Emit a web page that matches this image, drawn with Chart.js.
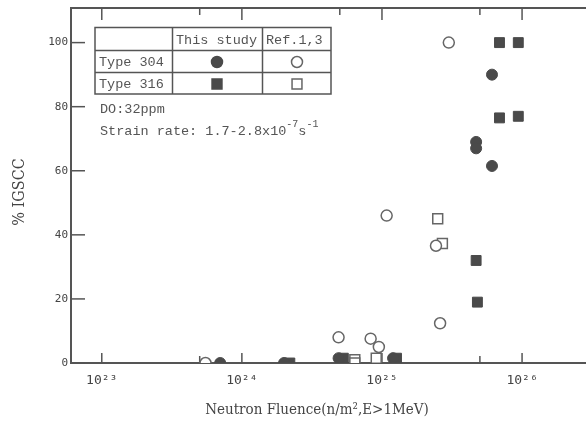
<!DOCTYPE html>
<html>
<head>
<meta charset="utf-8">
<script src="https://cdn.jsdelivr.net/npm/chart.js@4.4.0/dist/chart.umd.min.js"></script>
<style>
  body { margin: 0; background: #fff; }
</style>
</head>
<body>
<canvas id="chart" width="586" height="426"></canvas>
<script>
// neutron fluence (n/m2) and % IGSCC
var fluence304This = [7.0e23, 2.0e24, 4.9e24, 1.2e25, 4.7e25, 4.7e25, 6.1e25, 6.1e25];
var igscc304This   = [0, 0, 1.5, 1.5, 69, 67, 90, 61.5];

var fluence316This = [2.2e24, 5.3e24, 1.27e25, 4.7e25, 4.8e25, 6.9e25, 9.4e25, 6.9e25, 9.4e25];
var igscc316This   = [0, 1.5, 1.5, 32, 19, 100, 100, 76.5, 77];

var fluence304Ref = [5.5e23, 4.9e24, 8.3e24, 9.5e24, 1.08e25, 2.43e25, 2.6e25, 3.0e25];
var igscc304Ref   = [0, 8, 7.6, 5, 46, 36.6, 12.4, 100];

var fluence316Ref = [6.4e24, 6.4e24, 9.1e24, 2.5e25, 2.7e25];
var igscc316Ref   = [1, 0, 1.5, 45, 37.3];

var xMajor = [1e23, 1e24, 1e25, 1e26];
var xLabels = ['10²³', '10²⁴', '10²⁵', '10²⁶'];
var xMinor = [5e23, 5e24, 5e25];
var yTicks = [0, 20, 40, 60, 80, 100];

var ink = '#4a4a4a';

function pts(xs, ys) {
  return xs.map(function (v, i) { return { x: v, y: ys[i] }; });
}

function line(ctx, x1, y1, x2, y2) {
  ctx.beginPath();
  ctx.moveTo(x1, y1);
  ctx.lineTo(x2, y2);
  ctx.stroke();
}

var frame = {
  id: 'frame',
  beforeDatasetsDraw: function (chart) {
    var ctx = chart.ctx, a = chart.chartArea;
    var sx = chart.scales.x, sy = chart.scales.y;
    ctx.save();
    ctx.strokeStyle = '#555';
    ctx.lineWidth = 2;
    ctx.beginPath();
    ctx.moveTo(a.right, a.top);
    ctx.lineTo(a.left, a.top);
    ctx.lineTo(a.left, a.bottom);
    ctx.lineTo(a.right, a.bottom);
    ctx.stroke();
    ctx.lineWidth = 1.5;
    xMajor.forEach(function (v) {
      var px = sx.getPixelForValue(v);
      line(ctx, px, a.bottom, px, a.bottom - 10);
      line(ctx, px, a.top, px, a.top + 12);
    });
    xMinor.forEach(function (v) {
      var px = sx.getPixelForValue(v);
      line(ctx, px, a.bottom, px, a.bottom - 7);
      line(ctx, px, a.top, px, a.top + 7);
    });
    yTicks.forEach(function (v) {
      var py = sy.getPixelForValue(v);
      line(ctx, a.left, py, a.left + 14, py);
    });
    ctx.restore();
  },
  afterDraw: function (chart) {
    var ctx = chart.ctx;
    ctx.save();
    // axis titles
    ctx.fillStyle = '#444';
    ctx.font = '15px "DejaVu Serif Condensed", "DejaVu Serif", serif';
    ctx.textAlign = 'center';
    ctx.textBaseline = 'middle';
    ctx.fillText('Neutron Fluence(n/m²,E>1MeV)', 317, 410);
    ctx.save();
    ctx.translate(20, 192);
    ctx.rotate(-Math.PI / 2);
    ctx.font = '16px "DejaVu Serif Condensed", "DejaVu Serif", serif';
    ctx.fillText('% IGSCC', 0, 0);
    ctx.restore();

    // legend table
    ctx.strokeStyle = '#555';
    ctx.lineWidth = 1.5;
    ctx.strokeRect(95, 27.5, 236, 66.5);
    line(ctx, 95, 50.5, 331, 50.5);
    line(ctx, 95, 72.5, 331, 72.5);
    line(ctx, 172.5, 27.5, 172.5, 94);
    line(ctx, 262.5, 27.5, 262.5, 94);

    ctx.font = '13.5px "Liberation Mono", "DejaVu Sans Mono", monospace';
    ctx.fillStyle = '#555';
    ctx.textAlign = 'left';
    ctx.fillText('This study', 176, 40);
    ctx.fillText('Ref.1,3', 266, 40);
    ctx.fillText('Type 304', 99, 62);
    ctx.fillText('Type 316', 99, 84);

    var dp = Chart.helpers.drawPoint;
    ctx.lineWidth = 1.5;
    ctx.fillStyle = ink; ctx.strokeStyle = ink;
    dp(ctx, { pointStyle: 'circle', radius: 5.5, rotation: 0, borderWidth: 1 }, 217, 62);
    dp(ctx, { pointStyle: 'rect', radius: 7, rotation: 0, borderWidth: 1 }, 217, 84);
    ctx.fillStyle = '#fff'; ctx.strokeStyle = '#666';
    dp(ctx, { pointStyle: 'circle', radius: 5.5, rotation: 0, borderWidth: 1.5 }, 297, 62);
    dp(ctx, { pointStyle: 'rect', radius: 7, rotation: 0, borderWidth: 1.5 }, 297, 84);

    // test conditions
    ctx.fillStyle = '#555';
    ctx.font = '13.5px "Liberation Mono", "DejaVu Sans Mono", monospace';
    ctx.fillText('DO:32ppm', 100, 109);
    var s = 'Strain rate: 1.7-2.8x10';
    ctx.fillText(s, 100, 131);
    var w = ctx.measureText(s).width;
    ctx.font = '10px "Liberation Mono", "DejaVu Sans Mono", monospace';
    ctx.fillText('-7', 100 + w, 124);
    var w2 = ctx.measureText('-7').width;
    ctx.font = '13.5px "Liberation Mono", "DejaVu Sans Mono", monospace';
    ctx.fillText('s', 100 + w + w2, 131);
    var w3 = ctx.measureText('s').width;
    ctx.font = '10px "Liberation Mono", "DejaVu Sans Mono", monospace';
    ctx.fillText('-1', 100 + w + w2 + w3, 124);
    ctx.restore();
  }
};

new Chart(document.getElementById('chart'), {
  type: 'scatter',
  data: {
    datasets: [
      {
        label: 'Type 304 Ref.1,3',
        data: pts(fluence304Ref, igscc304Ref),
        pointStyle: 'circle', pointRadius: 5.5,
        backgroundColor: '#fff', borderColor: '#666', borderWidth: 1.5
      },
      {
        label: 'Type 316 Ref.1,3',
        data: pts(fluence316Ref, igscc316Ref),
        pointStyle: 'rect', pointRadius: 7,
        backgroundColor: '#fff', borderColor: '#666', borderWidth: 1.5
      },
      {
        label: 'Type 304 This study',
        data: pts(fluence304This, igscc304This),
        pointStyle: 'circle', pointRadius: 5.5,
        backgroundColor: ink, borderColor: ink, borderWidth: 1
      },
      {
        label: 'Type 316 This study',
        data: pts(fluence316This, igscc316This),
        pointStyle: 'rect', pointRadius: 7,
        backgroundColor: ink, borderColor: ink, borderWidth: 1
      }
    ]
  },
  options: {
    responsive: false,
    animation: false,
    layout: { autoPadding: false, padding: { top: 8, right: 0, bottom: 0, left: 0 } },
    plugins: { legend: { display: false }, tooltip: { enabled: false } },
    scales: {
      x: {
        type: 'logarithmic',
        min: 6.03e22,
        max: 2.86e26,
        grid: { display: false, drawTicks: false },
        border: { display: false },
        afterBuildTicks: function (s) {
          s.ticks = xMajor.map(function (v) { return { value: v, major: true }; });
        },
        afterFit: function (s) { s.height = 63; s.paddingLeft = 0; s.paddingRight = 0; },
        ticks: {
          autoSkip: false, maxRotation: 0, padding: 10, color: '#444',
          font: { family: '"DejaVu Sans Mono", monospace', size: 13 },
          callback: function (v) { return xLabels[xMajor.indexOf(v)]; }
        }
      },
      y: {
        min: 0,
        max: 110.8,
        grid: { display: false, drawTicks: false },
        border: { display: false },
        afterBuildTicks: function (s) {
          s.ticks = yTicks.map(function (v) { return { value: v }; });
        },
        afterFit: function (s) { s.width = 71; s.paddingTop = 0; s.paddingBottom = 0; },
        ticks: {
          padding: 3, color: '#444',
          font: { family: '"DejaVu Sans Mono", monospace', size: 11 }
        }
      }
    }
  },
  plugins: [frame]
});
</script>
</body>
</html>
